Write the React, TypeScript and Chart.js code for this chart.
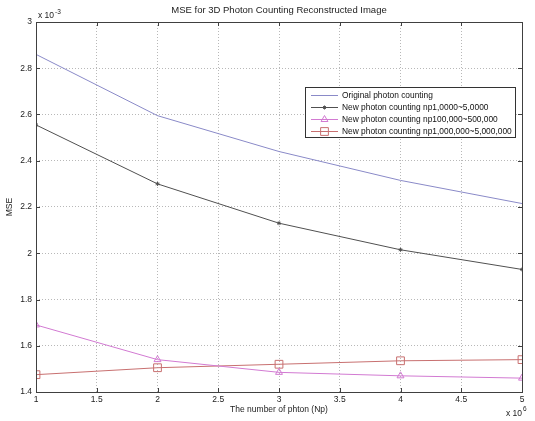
import React, { useEffect, useRef } from "react";
import { Chart, registerables } from "chart.js";
import { drawPoint } from "chart.js/helpers";

Chart.register(...registerables);

const xValues = [1, 2, 3, 4, 5];
const originalMSE = [2.86, 2.595, 2.44, 2.315, 2.215];
const newSmallMSE = [2.555, 2.3, 2.13, 2.015, 1.93];
const newMediumMSE = [1.69, 1.54, 1.485, 1.47, 1.46];
const newLargeMSE = [1.475, 1.505, 1.52, 1.535, 1.54];
const seriesLabels = [
  "Original photon counting",
  "New photon counting np1,0000~5,0000",
  "New photon counting np100,000~500,000",
  "New photon counting np1,000,000~5,000,000",
];
const xTicks = [1, 1.5, 2, 2.5, 3, 3.5, 4, 4.5, 5];
const yTicks = [1.4, 1.6, 1.8, 2, 2.2, 2.4, 2.6, 2.8, 3];
const titleText = "MSE for 3D Photon Counting Reconstructed Image";
const xAxisText = "The number of phton (Np)";
const yAxisText = "MSE";

const FONT = "'Liberation Sans', Arial, sans-serif";
const colors = ["#8a8ac8", "#505050", "#d27ad2", "#c87070"];

export default function App() {
  const ref = useRef<HTMLCanvasElement | null>(null);
  useEffect(() => {
    document.body.style.margin = "0";
    const canvas = ref.current!;
    const toPts = (arr: number[]) => arr.map((y, i) => ({ x: xValues[i], y }));
    const decor = {
      id: "decor",
      afterDraw(chart: any) {
        const ctx = chart.ctx;
        const a = chart.chartArea;
        const xs = chart.scales.x;
        const ys = chart.scales.y;
        ctx.save();
        ctx.strokeStyle = "#404040";
        ctx.lineWidth = 1;
        ctx.strokeRect(Math.round(a.left) + 0.5, Math.round(a.top) + 0.5, Math.round(a.right - a.left), Math.round(a.bottom - a.top));
        ctx.beginPath();
        xTicks.forEach((t) => {
          const px = Math.round(xs.getPixelForValue(t)) + 0.5;
          ctx.moveTo(px, a.bottom);
          ctx.lineTo(px, a.bottom - 4);
          ctx.moveTo(px, a.top);
          ctx.lineTo(px, a.top + 4);
        });
        yTicks.forEach((t) => {
          const py = Math.round(ys.getPixelForValue(t)) + 0.5;
          ctx.moveTo(a.left, py);
          ctx.lineTo(a.left + 4, py);
          ctx.moveTo(a.right, py);
          ctx.lineTo(a.right - 4, py);
        });
        ctx.stroke();
        ctx.fillStyle = "#222";
        ctx.textBaseline = "middle";
        ctx.textAlign = "center";
        ctx.font = `9.5px ${FONT}`;
        ctx.fillText(titleText, (a.left + a.right) / 2, 10);
        ctx.font = `8.5px ${FONT}`;
        ctx.fillText(xAxisText, (a.left + a.right) / 2, 410);
        ctx.save();
        ctx.translate(10, (a.top + a.bottom) / 2);
        ctx.rotate(-Math.PI / 2);
        ctx.fillText(yAxisText, 0, 0);
        ctx.restore();
        ctx.textAlign = "left";
        ctx.font = `8.5px ${FONT}`;
        ctx.fillText("x 10", a.left + 2, 16);
        ctx.font = `6.5px ${FONT}`;
        ctx.fillText("-3", a.left + 19, 12);
        ctx.font = `8.5px ${FONT}`;
        ctx.fillText("x 10", a.right - 16, 414);
        ctx.font = `6.5px ${FONT}`;
        ctx.fillText("6", a.right + 1, 409);
        // legend
        const lx = 305, ly = 87, lw = 210, lh = 50;
        ctx.fillStyle = "#fff";
        ctx.fillRect(lx, ly, lw, lh);
        ctx.strokeStyle = "#333";
        ctx.strokeRect(lx + 0.5, ly + 0.5, lw, lh);
        ctx.font = `8.4px ${FONT}`;
        chart.data.datasets.forEach((ds: any, i: number) => {
          const y = Math.round(ly + 7.5 + i * 12) + 0.5;
          ctx.strokeStyle = ds.borderColor;
          ctx.lineWidth = 1;
          ctx.beginPath();
          ctx.moveTo(lx + 6, y);
          ctx.lineTo(lx + 33, y);
          ctx.stroke();
          if (ds.pointStyle && ds.pointRadius > 0) {
            ctx.fillStyle = "rgba(0,0,0,0)";
            ctx.strokeStyle = ds.pointBorderColor;
            drawPoint(ctx, { pointStyle: ds.pointStyle, radius: ds.pointRadius, rotation: 0, borderWidth: 1 } as any, lx + 19.5, y);
          }
          ctx.fillStyle = "#111";
          ctx.fillText(ds.label, lx + 37, y);
        });
        ctx.restore();
      },
    };
    const chart = new Chart(canvas, {
      type: "line",
      data: {
        datasets: [
          { label: seriesLabels[0], data: toPts(originalMSE), borderColor: colors[0], borderWidth: 1, pointRadius: 0, pointStyle: false as any },
          { label: seriesLabels[1], data: toPts(newSmallMSE), borderColor: colors[1], borderWidth: 1, pointRadius: 2, pointStyle: "star", pointBorderColor: colors[1], pointBackgroundColor: "rgba(0,0,0,0)" },
          { label: seriesLabels[2], data: toPts(newMediumMSE), borderColor: colors[2], borderWidth: 1, pointRadius: 4, pointStyle: "triangle", pointBorderColor: colors[2], pointBackgroundColor: "rgba(0,0,0,0)" },
          { label: seriesLabels[3], data: toPts(newLargeMSE), borderColor: colors[3], borderWidth: 1, pointRadius: 5.5, pointStyle: "rect", pointBorderColor: colors[3], pointBackgroundColor: "rgba(0,0,0,0)" },
        ],
      },
      options: {
        animation: false,
        responsive: false,
        layout: { padding: { left: 0, right: 13, top: 22, bottom: 0 } },
        plugins: { legend: { display: false }, title: { display: false }, tooltip: { enabled: false } },
        scales: {
          x: {
            type: "linear",
            min: 1,
            max: 5,
            afterBuildTicks: (s: any) => { s.ticks = xTicks.map((v) => ({ value: v })); },
            afterFit: (s: any) => { s.height = 29; },
            ticks: { font: { size: 8.5, family: FONT }, color: "#222", padding: 3, maxRotation: 0, callback: (v: any) => String(v) },
            grid: { color: "#b8b8b8", drawTicks: false, tickLength: 0 },
            border: { display: false, dash: [1, 2] },
          },
          y: {
            type: "linear",
            min: 1.4,
            max: 3,
            afterBuildTicks: (s: any) => { s.ticks = yTicks.map((v) => ({ value: v })); },
            afterFit: (s: any) => { s.width = 36; },
            ticks: { font: { size: 8.5, family: FONT }, color: "#222", padding: 4, callback: (v: any) => String(Math.round(v * 10) / 10) },
            grid: { color: "#b8b8b8", drawTicks: false, tickLength: 0 },
            border: { display: false, dash: [1, 2] },
          },
        },
      },
      plugins: [decor],
    });
    return () => chart.destroy();
  }, []);
  return (
    <div style={{ position: "absolute", left: 0, top: 0, width: 535, height: 421, background: "#fff" }}>
      <canvas ref={ref} width={535} height={421} />
    </div>
  );
}
